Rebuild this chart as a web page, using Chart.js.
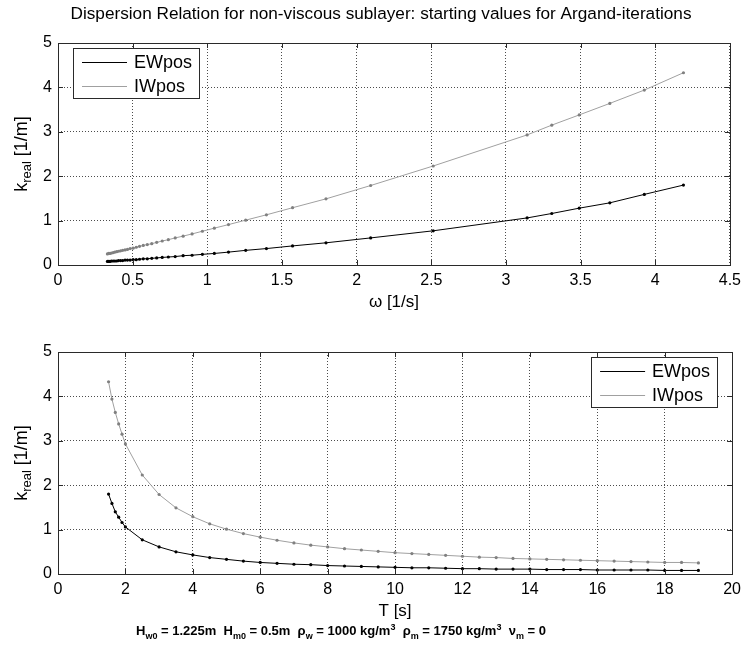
<!DOCTYPE html>
<html>
<head>
<meta charset="utf-8">
<script src="https://cdn.jsdelivr.net/npm/chart.js@4.4.1/dist/chart.umd.min.js"></script>
<style>
body { margin: 0; background: #fff; width: 747px; height: 645px; position: relative; overflow: hidden; font-family: "Liberation Sans", Arial, sans-serif; }
.box { position: absolute; left: 0; width: 747px; height: 315px; }
#note { position: absolute; left: 136px; top: 622px; font-size: 13px; font-weight: bold; white-space: nowrap; color: #000; }
#note sub, #note sup { font-size: 9px; }
</style>
</head>
<body>
<div class="box" style="top:0"><canvas id="topChart" width="747" height="315"></canvas></div>
<div class="box" style="top:309px"><canvas id="bottomChart" width="747" height="315"></canvas></div>
<div id="note">H<sub>w0</sub> = 1.225m&nbsp; H<sub>m0</sub> = 0.5m&nbsp; &rho;<sub>w</sub> = 1000 kg/m<sup>3</sup>&nbsp; &rho;<sub>m</sub> = 1750 kg/m<sup>3</sup>&nbsp; &nu;<sub>m</sub> = 0</div>
<script>
// wave period T [s] and angular frequency omega [1/s] of every computed point
var periods = [1.5, 1.6, 1.7, 1.8, 1.9, 2, 2.5, 3, 3.5, 4, 4.5, 5, 5.5, 6, 6.5, 7, 7.5, 8, 8.5, 9,
               9.5, 10, 10.5, 11, 11.5, 12, 12.5, 13, 13.5, 14, 14.5, 15, 15.5, 16, 16.5, 17, 17.5, 18, 18.5, 19];
var omegas = [4.189, 3.927, 3.696, 3.491, 3.307, 3.142, 2.513, 2.094, 1.795, 1.571, 1.396, 1.257, 1.142, 1.047, 0.967, 0.898, 0.838, 0.785, 0.739, 0.698,
              0.661, 0.628, 0.598, 0.571, 0.546, 0.524, 0.503, 0.483, 0.465, 0.449, 0.433, 0.419, 0.405, 0.393, 0.381, 0.370, 0.359, 0.349, 0.340, 0.331];
// k_real [1/m]
var kEW = [1.80, 1.59, 1.40, 1.28, 1.16, 1.06, 0.77, 0.61, 0.50, 0.43, 0.37, 0.33, 0.29, 0.26, 0.24, 0.22, 0.21, 0.19, 0.18, 0.17,
           0.16, 0.15, 0.14, 0.14, 0.13, 0.12, 0.12, 0.11, 0.11, 0.11, 0.10, 0.10, 0.10, 0.09, 0.09, 0.09, 0.09, 0.08, 0.08, 0.08];
var kIW = [4.33, 3.94, 3.64, 3.38, 3.15, 2.93, 2.23, 1.79, 1.49, 1.29, 1.13, 1.01, 0.91, 0.83, 0.76, 0.70, 0.65, 0.61, 0.57, 0.54,
           0.51, 0.48, 0.46, 0.44, 0.42, 0.40, 0.38, 0.37, 0.35, 0.34, 0.33, 0.32, 0.31, 0.30, 0.29, 0.28, 0.27, 0.26, 0.26, 0.25];
var seriesNames = ['EWpos', 'IWpos'];
var kTicks = [0, 1, 2, 3, 4, 5];
var omegaTicks = [0, 0.5, 1, 1.5, 2, 2.5, 3, 3.5, 4, 4.5];
var periodTicks = [0, 2, 4, 6, 8, 10, 12, 14, 16, 18, 20];
var mainTitle = 'Dispersion Relation for non-viscous sublayer: starting values for Argand-iterations';

var FONT = '"Liberation Sans", Arial, Helvetica, sans-serif';

function pairs(xs, ys) {
    return xs.map(function (x, i) { return { x: x, y: ys[i] }; });
}

function fixedTicks(list) {
    return function (scale) {
        scale.ticks = list.map(function (v) { return { value: v }; });
    };
}

function plainLabel(v) {
    return String(v);
}

// closed box with inward tick marks, like the MATLAB axes
var framePlugin = {
    id: 'frame',
    afterDatasetsDraw: function (chart) {
        var ctx = chart.ctx, a = chart.chartArea;
        var xs = chart.scales.x, ys = chart.scales.y;
        ctx.save();
        ctx.strokeStyle = '#2a2a2a';
        ctx.lineWidth = 1;
        ctx.beginPath();
        xs.ticks.forEach(function (t) {
            var px = Math.round(xs.getPixelForValue(t.value)) + 0.5;
            ctx.moveTo(px, a.bottom); ctx.lineTo(px, a.bottom - 5);
            ctx.moveTo(px, a.top); ctx.lineTo(px, a.top + 5);
        });
        ys.ticks.forEach(function (t) {
            var py = Math.round(ys.getPixelForValue(t.value)) + 0.5;
            ctx.moveTo(a.left, py); ctx.lineTo(a.left + 5, py);
            ctx.moveTo(a.right, py); ctx.lineTo(a.right - 5, py);
        });
        ctx.stroke();
        ctx.strokeRect(Math.round(a.left) + 0.5, Math.round(a.top) + 0.5, Math.round(a.right - a.left), Math.round(a.bottom - a.top));
        ctx.restore();
    }
};

// legend box drawn inside the plot area
var boxLegendPlugin = {
    id: 'boxLegend',
    afterDraw: function (chart, args, opts) {
        var ctx = chart.ctx, a = chart.chartArea;
        var w = 126, h = 50;
        var left = opts.side === 'left' ? a.left + 15 : a.right - 15 - w;
        var top = a.top + 5;
        ctx.save();
        ctx.fillStyle = '#fff';
        ctx.fillRect(left, top, w, h);
        ctx.strokeStyle = '#2a2a2a';
        ctx.lineWidth = 1;
        ctx.strokeRect(Math.round(left) + 0.5, Math.round(top) + 0.5, w, h);
        ctx.font = '18px ' + FONT;
        ctx.textBaseline = 'middle';
        chart.data.datasets.forEach(function (ds, i) {
            var y = Math.round(top + 14 + i * 23.5) + 0.5;
            ctx.strokeStyle = ds.borderColor;
            ctx.beginPath();
            ctx.moveTo(left + 9, y);
            ctx.lineTo(left + 54, y);
            ctx.stroke();
            ctx.fillStyle = '#000';
            ctx.fillText(ds.label, left + 61, y + 1);
        });
        ctx.restore();
    }
};

// y axis title with subscript (k_real [1/m]) and the figure title on top
var textPlugin = {
    id: 'texts',
    afterDraw: function (chart, args, opts) {
        var ctx = chart.ctx, a = chart.chartArea;
        var big = '18px ' + FONT, small = '13px ' + FONT;
        ctx.save();
        ctx.fillStyle = '#000';
        if (opts.title) {
            ctx.font = '17.2px ' + FONT;
            ctx.textAlign = 'center';
            ctx.textBaseline = 'middle';
            ctx.fillText(opts.title, 381, 14);
            ctx.textAlign = 'left';
        }
        ctx.font = big;
        var w1 = ctx.measureText('k').width;
        var w3 = ctx.measureText(' [1/m]').width;
        ctx.font = small;
        var w2 = ctx.measureText('real').width;
        var x = -(w1 + w2 + w3) / 2;
        ctx.translate(27, (a.top + a.bottom) / 2);
        ctx.rotate(-Math.PI / 2);
        ctx.textBaseline = 'alphabetic';
        ctx.font = big; ctx.fillText('k', x, 0); x += w1;
        ctx.font = small; ctx.fillText('real', x, 4); x += w2;
        ctx.font = big; ctx.fillText(' [1/m]', x, 0);
        ctx.restore();
    }
};

function makeChart(id, xValues, xTicks, xMax, xTitle, legendSide, title) {
    return new Chart(document.getElementById(id), {
        type: 'scatter',
        data: {
            datasets: [{
                label: seriesNames[0],
                data: pairs(xValues, kEW),
                showLine: true,
                borderColor: '#000000',
                backgroundColor: '#000000',
                borderWidth: 1,
                pointRadius: 1.6,
                pointBorderWidth: 0
            }, {
                label: seriesNames[1],
                data: pairs(xValues, kIW),
                showLine: true,
                borderColor: '#a0a0a0',
                backgroundColor: '#808080',
                borderWidth: 1,
                pointRadius: 1.6,
                pointBorderWidth: 0
            }]
        },
        options: {
            responsive: false,
            animation: false,
            layout: { padding: { top: 43, right: 14, left: 0, bottom: 0 } },
            plugins: {
                legend: { display: false },
                tooltip: { enabled: false },
                boxLegend: { side: legendSide },
                texts: { title: title }
            },
            scales: {
                x: {
                    type: 'linear',
                    min: 0,
                    max: xMax,
                    afterBuildTicks: fixedTicks(xTicks),
                    afterFit: function (scale) { scale.height = 50; },
                    grid: { color: 'rgba(0,0,0,0.7)', lineWidth: 1, drawTicks: false },
                    border: { display: false, dash: [1, 2] },
                    ticks: { color: '#000', padding: 6, maxRotation: 0, font: { family: FONT, size: 16 }, callback: plainLabel },
                    title: { display: true, text: xTitle, color: '#000', padding: { top: 0, bottom: 2 }, font: { family: FONT, size: 17 } }
                },
                y: {
                    type: 'linear',
                    min: 0,
                    max: 5,
                    afterBuildTicks: fixedTicks(kTicks),
                    afterFit: function (scale) { scale.width = 58; },
                    grid: { color: 'rgba(0,0,0,0.7)', lineWidth: 1, drawTicks: false },
                    border: { display: false, dash: [1, 2] },
                    ticks: { color: '#000', padding: 6, font: { family: FONT, size: 16 }, callback: plainLabel }
                }
            }
        },
        plugins: [framePlugin, boxLegendPlugin, textPlugin]
    });
}

makeChart('topChart', omegas, omegaTicks, 4.5, '\u03c9 [1/s]', 'left', mainTitle);
makeChart('bottomChart', periods, periodTicks, 20, 'T [s]', 'right', null);
</script>
</body>
</html>
